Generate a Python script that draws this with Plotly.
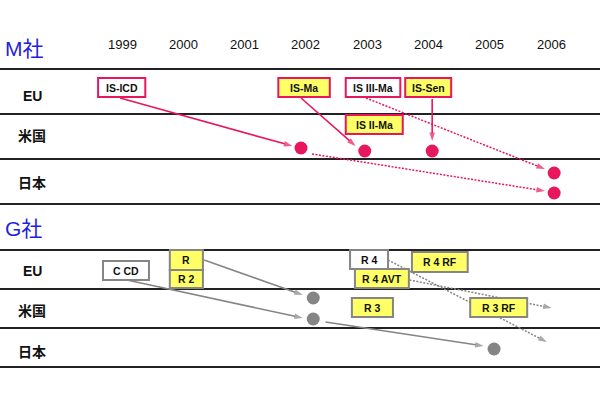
import plotly.graph_objects as go

# ---------------- data ----------------
years = [1999, 2000, 2001, 2002, 2003, 2004, 2005, 2006]
section_titles = ["M社", "G社"]
row_labels = ["EU", "米国", "日本"]

# M社 products: label, start-year, end-year (box span on time axis), row-top, row-bottom, fill
m_labels = ["IS-ICD", "IS-Ma", "IS III-Ma", "IS-Sen", "IS II-Ma"]
m_x0 = [1998.61, 2001.55, 2002.65, 2003.62, 2002.65]
m_x1 = [1999.38, 2002.39, 2003.54, 2004.37, 2003.58]
m_y0 = [78, 78, 78, 78, 115]
m_y1 = [97, 97, 97, 97, 134]
m_yellow = [False, True, False, True, True]

# M社 approval dots
m_dot_x = [2001.92, 2002.96, 2004.06, 2006.05, 2006.05]
m_dot_y = [148, 151, 151, 173, 193]

# M社 arrows
m_arr_x0 = [1998.97, 2001.92, 2004.06, 2002.98, 2002.10]
m_arr_y0 = [98, 98, 99, 98, 154]
m_arr_x1 = [2001.78, 2002.81, 2004.06, 2005.90, 2005.90]
m_arr_y1 = [146, 146, 141, 169, 191]
m_arr_dot = [False, False, False, True, True]

# G社 products
g_labels = ["C CD", "R", "R 2", "R 4", "R 4 RF", "R 4 AVT", "R 3", "R 3 RF"]
g_x0 = [1998.69, 1999.78, 1999.78, 2002.72, 2003.73, 2002.80, 2002.75, 2004.68]
g_x1 = [1999.44, 2000.32, 2000.32, 2003.34, 2004.64, 2003.68, 2003.42, 2005.61]
g_y0 = [261, 250, 270, 250, 252, 269, 298, 298]
g_y1 = [280, 270, 288, 269, 272, 288, 317, 317]
g_yellow = [False, True, True, False, True, True, True, True]

g_dot_x = [2002.12, 2002.12, 2005.07]
g_dot_y = [298, 319, 349]

g_arr_x0 = [2000.34, 1999.08, 2002.32, 2003.34, 2003.69]
g_arr_y0 = [260, 280, 322, 260, 280]
g_arr_x1 = [2001.95, 2001.95, 2004.90, 2005.93, 2006.01]
g_arr_y1 = [295, 318, 346, 342, 308]
g_arr_dot = [False, False, False, True, True]

# ---------------- layout helpers ----------------
PX = 61.3                      # pixels per year
X0 = 1999 - 122 / PX           # left edge of the canvas in years
X1 = 1999 + 478 / PX
def px2yr(px):
    return X0 + px / PX

PINK = "#e8175d"
GRAY = "#858585"
YELLOW = "#ffff66"
BLUE = "#1f1fe0"
FONT = "Liberation Sans, Arial, Noto Sans CJK JP, sans-serif"

fig = go.Figure()
shapes = []
annotations = []

# section rules
for ys in ([69, 114, 159, 204], [250, 289, 328, 367]):
    for y in ys:
        shapes.append(dict(type="line", xref="x", yref="y", x0=X0, x1=X1, y0=y, y1=y,
                           line=dict(color="#222222", width=2), layer="below"))

# titles
for t, y in zip(section_titles, [48, 228]):
    annotations.append(dict(x=px2yr(3), y=y, text=t, showarrow=False, xanchor="left",
                            yanchor="middle", font=dict(family=FONT, size=21, color=BLUE)))

# year labels
for yr in years:
    annotations.append(dict(x=yr, y=44, text=str(yr), showarrow=False,
                            font=dict(family=FONT, size=13, color="#111111")))

# row labels
for lab, y in zip(row_labels, [96, 136, 183]):
    annotations.append(dict(x=px2yr(32), y=y, text="<b>%s</b>" % lab, showarrow=False,
                            font=dict(family=FONT, size=14, color="#111111")))
for lab, y in zip(row_labels, [271, 311, 352]):
    annotations.append(dict(x=px2yr(32), y=y, text="<b>%s</b>" % lab, showarrow=False,
                            font=dict(family=FONT, size=14, color="#111111")))


def add_arrows(x0s, y0s, x1s, y1s, dots, color):
    for a, b, c, d, dot in zip(x0s, y0s, x1s, y1s, dots):
        fig.add_trace(go.Scatter(
            x=[a, c], y=[b, d], mode="lines+markers",
            line=dict(color=color, width=1.5 if dot else 1.6,
                      dash="2px,1.5px" if dot else "solid"),
            marker=dict(symbol=["circle", "arrow"], size=[0, 9], angleref="previous",
                        color=color, line=dict(width=0)),
            hoverinfo="skip", showlegend=False))


def add_boxes(labels, x0s, x1s, y0s, y1s, yellows, border):
    for lab, a, b, c, d, yel in zip(labels, x0s, x1s, y0s, y1s, yellows):
        shapes.append(dict(type="rect", xref="x", yref="y", x0=a, x1=b, y0=c, y1=d,
                           fillcolor=YELLOW if yel else "white",
                           line=dict(color=border, width=2), layer="above"))
        annotations.append(dict(x=(a + b) / 2, y=(c + d) / 2, text="<b>%s</b>" % lab,
                                showarrow=False,
                                font=dict(family=FONT, size=10.5, color="#111111")))


add_arrows(m_arr_x0, m_arr_y0, m_arr_x1, m_arr_y1, m_arr_dot, PINK)
add_arrows(g_arr_x0, g_arr_y0, g_arr_x1, g_arr_y1, g_arr_dot, GRAY)

fig.add_trace(go.Scatter(x=m_dot_x, y=m_dot_y, mode="markers",
                         marker=dict(color=PINK, size=13, line=dict(width=0)),
                         hoverinfo="skip", showlegend=False))
fig.add_trace(go.Scatter(x=g_dot_x, y=g_dot_y, mode="markers",
                         marker=dict(color=GRAY, size=13, line=dict(width=0)),
                         hoverinfo="skip", showlegend=False))

add_boxes(m_labels, m_x0, m_x1, m_y0, m_y1, m_yellow, PINK)
add_boxes(g_labels, g_x0, g_x1, g_y0, g_y1, g_yellow, GRAY)

fig.update_layout(
    width=600, height=400,
    margin=dict(l=0, r=0, t=0, b=0),
    paper_bgcolor="white", plot_bgcolor="white",
    xaxis=dict(range=[X0, X1], visible=False, fixedrange=True),
    yaxis=dict(range=[400, 0], visible=False, fixedrange=True),
    shapes=shapes, annotations=annotations, showlegend=False,
)

fig.write_html("out.html", config={"displayModeBar": False},
               post_script="document.body.style.margin='0';document.body.style.overflow='hidden';")
